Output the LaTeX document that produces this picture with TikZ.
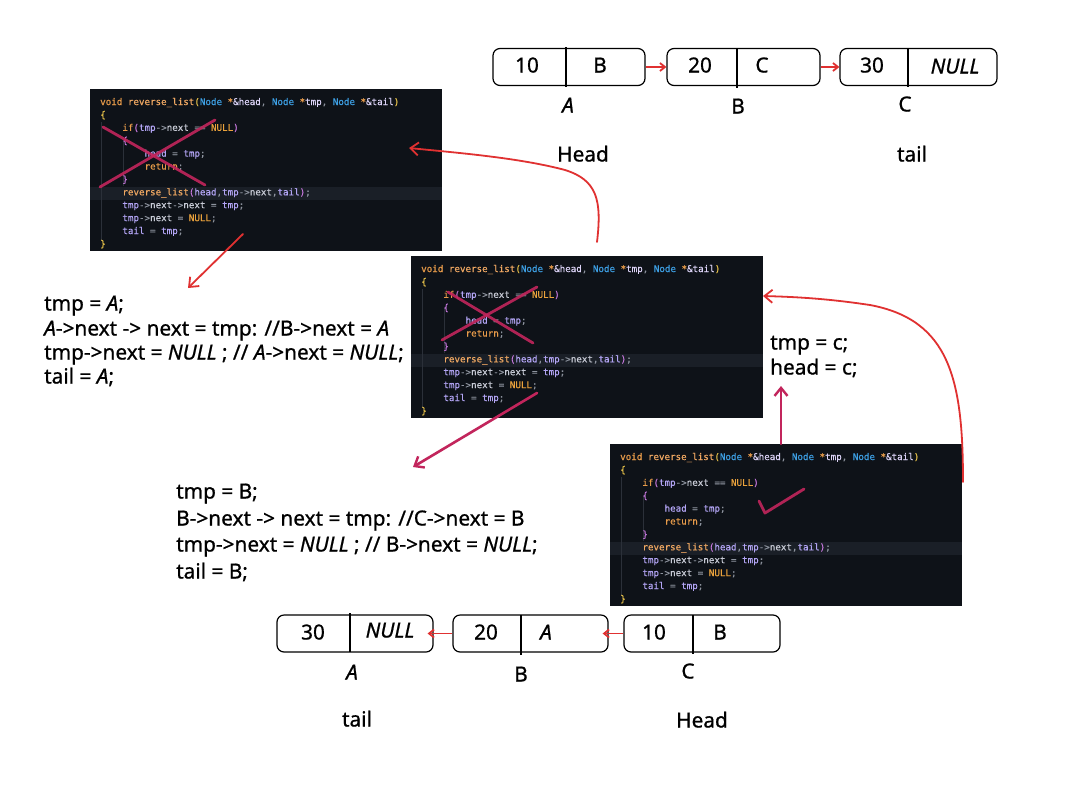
\documentclass[tikz,border=0pt]{standalone}
\usepackage{fontspec}
\setmainfont[FakeBold=0.8]{Noto Sans}
\newfontfamily\codefont[FakeBold=0.5]{DejaVu Sans Mono}
\usetikzlibrary{arrows.meta,calc}

% palette
\definecolor{myred}{HTML}{E03131}
\definecolor{mymag}{HTML}{C2255C}
\definecolor{cbg}{HTML}{0E1218}
\definecolor{chl}{HTML}{1A1F27}
\definecolor{cguide}{HTML}{2B3039}
\definecolor{ckw}{HTML}{E89B4A}
\definecolor{cfn}{HTML}{F0A862}
\definecolor{cty}{HTML}{3D9FE3}
\definecolor{cvar}{HTML}{B3A5F5}
\definecolor{cprm}{HTML}{DCD3F7}
\definecolor{cnext}{HTML}{C8CBD6}
\definecolor{cpun}{HTML}{8D939E}
\definecolor{cnull}{HTML}{EAA23C}
\definecolor{cyel}{HTML}{E8C24A}
\definecolor{cpur}{HTML}{C678DD}

% syntax colouring helpers
\newcommand\kwd[1]{\textcolor{ckw}{#1}}
\newcommand\fnc[1]{\textcolor{cfn}{#1}}
\newcommand\typ[1]{\textcolor{cty}{#1}}
\newcommand\vrb[1]{\textcolor{cvar}{#1}}
\newcommand\prm[1]{\textcolor{cprm}{#1}}
\newcommand\nxt[1]{\textcolor{cnext}{#1}}
\newcommand\pun[1]{\textcolor{cpun}{#1}}
\newcommand\nul[1]{\textcolor{cnull}{#1}}
\newcommand\ylw[1]{\textcolor{cyel}{#1}}
\newcommand\mgt[1]{\textcolor{cpur}{#1}}
\newlength\cwid
\setlength\cwid{5.55pt}
\newcommand\indsp[1]{\hspace*{#1\cwid}}

% the twelve source lines of reverse_list
\newcommand\codeline[1]{\ifcase#1\or
\kwd{void} \fnc{reverse\_list}\ylw{(}\typ{Node} \kwd{*}\prm{\&head}\pun{,} \typ{Node} \kwd{*}\prm{tmp}\pun{,} \typ{Node} \kwd{*}\prm{\&tail}\ylw{)}\or
\ylw{\{}\or
\indsp{4}\kwd{if}\mgt{(}\vrb{tmp}\pun{->}\nxt{next} \pun{==} \nul{NULL}\mgt{)}\or
\indsp{4}\mgt{\{}\or
\indsp{8}\vrb{head} \pun{=} \vrb{tmp}\pun{;}\or
\indsp{8}\kwd{return}\pun{;}\or
\indsp{4}\mgt{\}}\or
\indsp{4}\fnc{reverse\_list}\mgt{(}\vrb{head}\pun{,}\vrb{tmp}\pun{->}\nxt{next}\pun{,}\vrb{tail}\mgt{)}\pun{;}\or
\indsp{4}\vrb{tmp}\pun{->}\nxt{next}\pun{->}\nxt{next} \pun{=} \vrb{tmp}\pun{;}\or
\indsp{4}\vrb{tmp}\pun{->}\nxt{next} \pun{=} \nul{NULL}\pun{;}\or
\indsp{4}\vrb{tail} \pun{=} \vrb{tmp}\pun{;}\or
\ylw{\}}\fi}

% a dark editor panel with the function in it; #1 name, #2,#3 top-left corner
\newcommand\codeblock[3]{%
  \node[codepanel, anchor=north west] (#1) at (#2,#3) {};
  \fill[chl] ($(#1.north west)+(0,97.5)$) rectangle ($(#1.north east)+(0,111)$);
  \draw[cguide, line width=0.8pt] ($(#1.north west)+(11.5,33)$) -- ($(#1.north west)+(11.5,152)$);
  \draw[cguide, line width=0.8pt] ($(#1.north west)+(33.5,52)$) -- ($(#1.north west)+(33.5,97)$);
  \foreach \i in {1,...,12}
    \node[codetxt, anchor=west] (#1-l\i) at ($(#1.north west)+(10,{13+(\i-1)*12.9})$) {\codeline{\i}};
}

\newcommand\hA{\textit{A}}
\newcommand\hN{\textit{NULL}}

\begin{document}
\begin{tikzpicture}[x=1pt, y=-1pt,
  codepanel/.style={fill=cbg, draw=none, minimum width=352pt, minimum height=162pt, inner sep=0pt},
  codetxt/.style={font=\codefont\fontsize{9.2}{11}\selectfont, inner sep=0pt, text height=8pt, text depth=2pt},
  cell/.style={draw=black, line width=1.2pt, rounded corners=7pt, inner sep=0pt, minimum height=37pt},
  divider/.style={draw=black, line width=1.2pt},
  hand/.style={font=\fontsize{20.8}{24}\selectfont, inner sep=0pt, text height=15pt, text depth=4pt},
  redarr/.style={draw=myred, line width=1.8pt, line cap=round, line join=round,
    -{Straight Barb[length=8pt,width=13pt,line width=1.8pt]}},
  redshort/.style={draw=myred, line width=1.8pt, -{Straight Barb[length=5pt,width=8pt,line width=1.8pt]}},
  magarr/.style={draw=mymag, line width=2.6pt, line cap=round, line join=round,
    -{Straight Barb[length=8pt,width=13pt,line width=2.4pt]}},
  strike/.style={draw=mymag, line width=2.8pt, line cap=round, line join=round, opacity=.9}]

\fill[white] (0,0) rectangle (1091,785);
\useasboundingbox (0,0) rectangle (1091,785);

% ---------- original list A -> B -> C ----------
\node[cell, minimum width=152pt] (tA) at (569,67) {};
\node[cell, minimum width=153pt] (tB) at (743.5,67) {};
\node[cell, minimum width=157pt] (tC) at (918.5,67) {};
\draw[divider] (566,47) -- (566,87);
\draw[divider] (737,48) -- (737,88);
\draw[divider] (908,48) -- (908,87);
\node[hand] (tA1) at (527,67) {10};
\node[hand] (tA2) at (600,67) {B};
\node[hand] (tB1) at (700,67) {20};
\node[hand] (tB2) at (762,67) {C};
\node[hand] (tC1) at (872,67) {30};
\node[hand] (tC2) at (955,68) {\hN};
\draw[redshort] (tA.east) -- (tB.west);
\draw[redshort] (tB.east) -- (tC.west);
\node[hand] (tlA) at (568,107) {\hA};
\node[hand] (tlB) at (738,108) {B};
\node[hand] (tlC) at (905,106) {C};
\node[hand] (tHead) at (583,156) {Head};
\node[hand] (tTail) at (912,156) {tail};

% ---------- the three recursive calls ----------
\codeblock{code1}{90}{89}
\codeblock{code2}{411}{256}
\codeblock{code3}{610}{444}

% base case crossed out in the outer calls, ticked in the last one
\draw[strike] (100,187) -- (215,120);
\draw[strike] (103,127) -- (205,185);
\draw[strike] (442,340) -- (537,287);
\draw[strike] (448,292) -- (533,343);
\draw[strike] (759,501) -- (765,513) -- (804,489);

% ---------- notes ----------
\node[hand, anchor=west] (n1a) at (44,305) {tmp = \hA;};
\node[hand, anchor=west] (n1b) at (44,330) {\hA->next -> next = tmp: //B->next = \hA};
\node[hand, anchor=west] (n1c) at (44,354) {tmp->next = \hN\ ; // \hA->next = \hN;};
\node[hand, anchor=west] (n1d) at (44,378) {tail = \hA;};

\node[hand, anchor=west] (n2a) at (176,493) {tmp = B;};
\node[hand, anchor=west] (n2b) at (176,520) {B->next -> next = tmp: //C->next = B};
\node[hand, anchor=west] (n2c) at (176,546) {tmp->next = \hN\ ; // B->next = \hN;};
\node[hand, anchor=west] (n2d) at (176,573) {tail = B;};

\node[hand, anchor=west] (n3a) at (770,344) {tmp = c;};
\node[hand, anchor=west] (n3b) at (770,369) {head = c;};

% ---------- connectors ----------
\coordinate (c1out) at (243,234);
\coordinate (n1in) at (188,288);
\draw[redarr] (c1out) -- (n1in);

\coordinate (c2out) at (537,393);
\coordinate (n2in) at (413,467);
\draw[magarr] (c2out) -- (n2in);

\coordinate (c3out) at (781,444);
\coordinate (n3in) at (781,386);
\draw[magarr] (c3out) -- (n3in);

\coordinate (c2ret) at (597,242);
\coordinate (c1in) at (409,148);
\draw[redarr] (c2ret) .. controls (602,200) and (597,180) .. (565,170)
  .. controls (520,158) and (460,153) .. (c1in);

\coordinate (c3ret) at (963,482);
\coordinate (c2in) at (763,296);
\draw[redarr] (c3ret) .. controls (963,380) and (950,320) .. (870,305)
  .. controls (830,299) and (800,297) .. (c2in);

% ---------- reversed list C -> B -> A ----------
\node[cell, minimum width=156pt] (bA) at (355,633.5) {};
\node[cell, minimum width=155pt] (bB) at (530.5,633.5) {};
\node[cell, minimum width=156pt] (bC) at (702,633.5) {};
\draw[divider] (350,613) -- (350,652);
\draw[divider] (521,615) -- (521,655);
\draw[divider] (693,615) -- (693,654);
\node[hand] (bA1) at (313,634) {30};
\node[hand] (bA2) at (390,632) {\hN};
\node[hand] (bB1) at (486,634) {20};
\node[hand] (bB2) at (546,634) {\hA};
\node[hand] (bC1) at (654,634) {10};
\node[hand] (bC2) at (720,634) {B};
\draw[redshort] (bB.west) -- ([xshift=-6pt]bA.east);
\draw[redshort] (bC.west) -- ([xshift=-6pt]bB.east);
\node[hand] (blA) at (352,674) {\hA};
\node[hand] (blB) at (521,676) {B};
\node[hand] (blC) at (688,673) {C};
\node[hand] (bTail) at (357,721) {tail};
\node[hand] (bHead) at (702,722) {Head};

\end{tikzpicture}
\end{document}
